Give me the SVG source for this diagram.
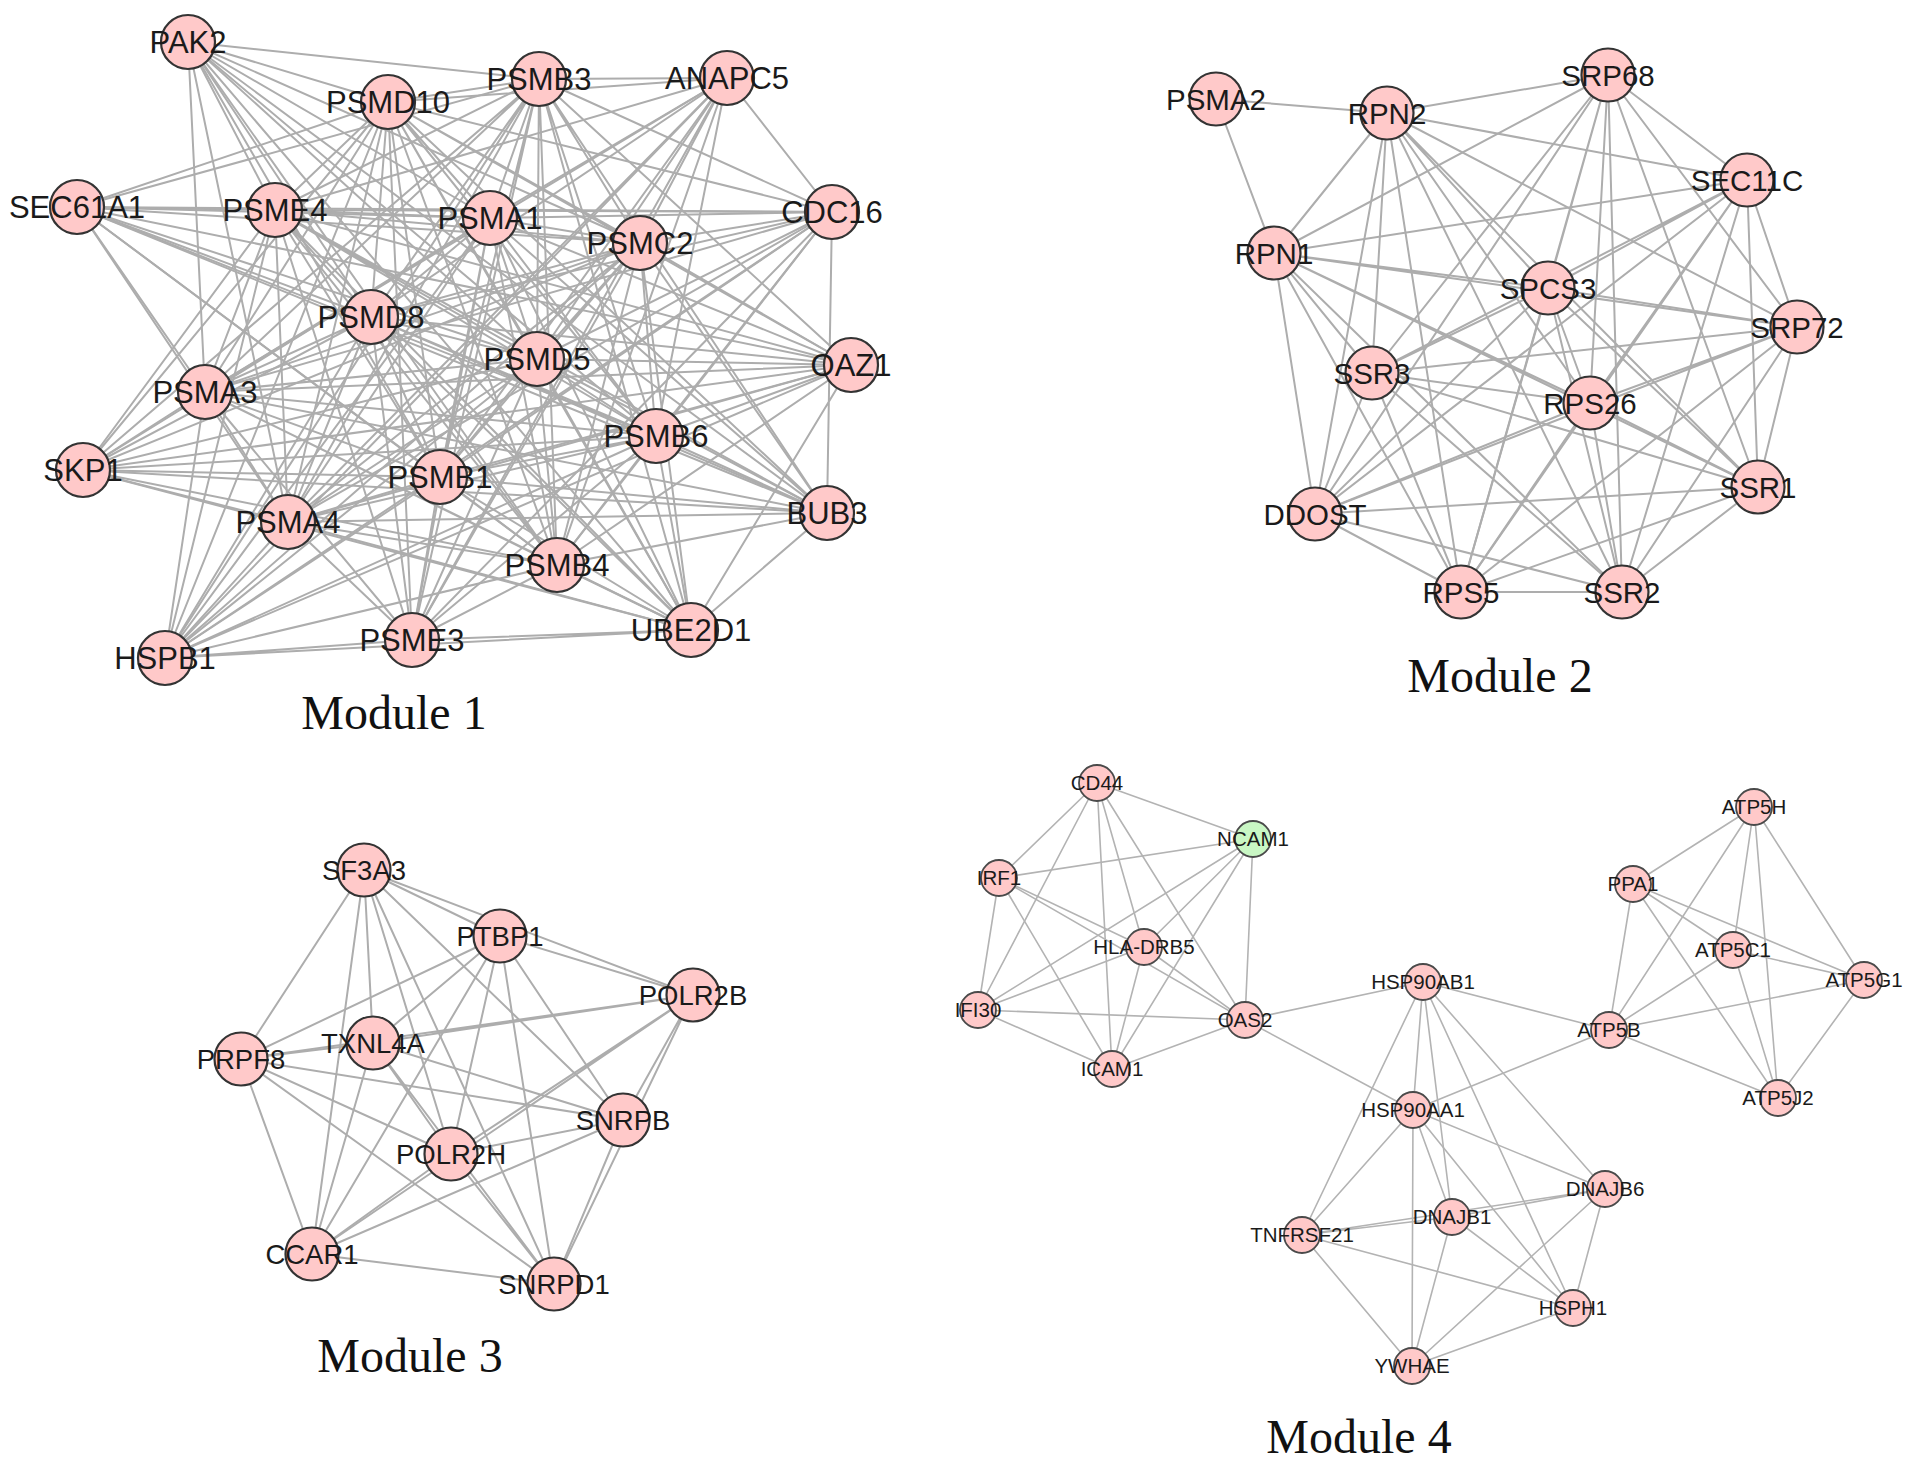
<svg xmlns="http://www.w3.org/2000/svg" width="1913" height="1468" viewBox="0 0 1913 1468">
<style>
.e{fill:none;stroke:#adadad;stroke-width:2}
.e4{fill:none;stroke:#b3b3b3;stroke-width:1.6}
.n{fill:#ffc9c9;stroke:#333;stroke-width:2.2}
.n4{fill:#ffc9c9;stroke:#4a4a4a;stroke-width:1.8}
.g4{fill:#c9f7c4;stroke:#4a4a4a;stroke-width:1.8}
text{font-family:"Liberation Sans",Arial,sans-serif;fill:#1a1a1a;text-anchor:middle}
.t1{font-size:31px}
.t2{font-size:29.5px}
.t3{font-size:27.5px}
.t4{font-size:20.5px}
.title{font-family:"Liberation Serif","Times New Roman",serif;font-size:48px;fill:#111}
</style>
<rect width="1913" height="1468" fill="#fff"/>
<g id="connectors">
<g id="edges-module1" class="e">
<path d="M388 102L539 79M388 102L275 210M388 102L490 218M388 102L640 243M388 102L371 317M388 102L537 359M388 102L205 392M388 102L656 436M388 102L440 477M388 102L288 522M388 102L557 565M388 102L188 42M388 102L727 78M388 102L77 207M388 102L832 212M388 102L851 365M388 102L83 470M388 102L827 513M388 102L691 630M388 102L412 640M388 102L165 658"/>
<path d="M539 79L275 210M539 79L490 218M539 79L640 243M539 79L371 317M539 79L537 359M539 79L205 392M539 79L656 436M539 79L440 477M539 79L288 522M539 79L557 565M539 79L188 42M539 79L727 78M539 79L77 207M539 79L832 212M539 79L851 365M539 79L83 470M539 79L827 513M539 79L691 630M539 79L412 640M539 79L165 658"/>
<path d="M275 210L490 218M275 210L640 243M275 210L371 317M275 210L537 359M275 210L205 392M275 210L656 436M275 210L440 477M275 210L288 522M275 210L557 565M275 210L188 42M275 210L727 78M275 210L77 207M275 210L832 212M275 210L851 365M275 210L83 470M275 210L827 513M275 210L691 630M275 210L412 640M275 210L165 658"/>
<path d="M490 218L640 243M490 218L371 317M490 218L537 359M490 218L205 392M490 218L656 436M490 218L440 477M490 218L288 522M490 218L557 565M490 218L188 42M490 218L727 78M490 218L77 207M490 218L832 212M490 218L851 365M490 218L83 470M490 218L827 513M490 218L691 630M490 218L412 640M490 218L165 658"/>
<path d="M640 243L371 317M640 243L537 359M640 243L205 392M640 243L656 436M640 243L440 477M640 243L288 522M640 243L557 565M640 243L188 42M640 243L727 78M640 243L77 207M640 243L832 212M640 243L851 365M640 243L83 470M640 243L827 513M640 243L691 630M640 243L412 640M640 243L165 658"/>
<path d="M371 317L537 359M371 317L205 392M371 317L656 436M371 317L440 477M371 317L288 522M371 317L557 565M371 317L188 42M371 317L727 78M371 317L77 207M371 317L832 212M371 317L851 365M371 317L83 470M371 317L827 513M371 317L691 630M371 317L412 640M371 317L165 658"/>
<path d="M537 359L205 392M537 359L656 436M537 359L440 477M537 359L288 522M537 359L557 565M537 359L188 42M537 359L727 78M537 359L77 207M537 359L832 212M537 359L851 365M537 359L83 470M537 359L827 513M537 359L691 630M537 359L412 640M537 359L165 658"/>
<path d="M205 392L656 436M205 392L440 477M205 392L288 522M205 392L557 565M205 392L188 42M205 392L727 78M205 392L77 207M205 392L832 212M205 392L851 365M205 392L83 470M205 392L827 513M205 392L691 630M205 392L412 640M205 392L165 658"/>
<path d="M656 436L440 477M656 436L288 522M656 436L557 565M656 436L188 42M656 436L727 78M656 436L77 207M656 436L832 212M656 436L851 365M656 436L83 470M656 436L827 513M656 436L691 630M656 436L412 640M656 436L165 658"/>
<path d="M440 477L288 522M440 477L557 565M440 477L188 42M440 477L727 78M440 477L77 207M440 477L832 212M440 477L851 365M440 477L83 470M440 477L827 513M440 477L691 630M440 477L412 640M440 477L165 658"/>
<path d="M288 522L557 565M288 522L188 42M288 522L727 78M288 522L77 207M288 522L832 212M288 522L851 365M288 522L83 470M288 522L827 513M288 522L691 630M288 522L412 640M288 522L165 658"/>
<path d="M557 565L188 42M557 565L727 78M557 565L77 207M557 565L832 212M557 565L851 365M557 565L83 470M557 565L827 513M557 565L691 630M557 565L412 640M557 565L165 658"/>
<path d="M727 78L832 212M832 212L827 513M77 207L832 212M851 365L691 630M827 513L691 630M412 640L691 630M165 658L412 640M83 470L827 513M83 470L851 365M165 658L691 630M77 207L827 513M727 78L165 658M832 212L165 658M188 42L691 630M83 470L691 630M832 212L412 640M851 365L165 658M188 42L827 513M77 207L851 365M727 78L412 640"/>
</g>
<g id="edges-module2" class="e">
<path d="M1216 99L1387 113M1216 99L1274 253"/>
<path d="M1387 113L1608 75M1387 113L1747 180M1387 113L1274 253M1387 113L1548 288M1387 113L1797 327M1387 113L1372 373M1387 113L1590 403M1387 113L1758 487M1387 113L1315 514M1387 113L1461 592M1387 113L1622 592"/>
<path d="M1608 75L1747 180M1608 75L1274 253M1608 75L1548 288M1608 75L1797 327M1608 75L1372 373M1608 75L1590 403M1608 75L1758 487M1608 75L1315 514M1608 75L1461 592M1608 75L1622 592"/>
<path d="M1747 180L1274 253M1747 180L1548 288M1747 180L1797 327M1747 180L1372 373M1747 180L1590 403M1747 180L1758 487M1747 180L1315 514M1747 180L1461 592M1747 180L1622 592"/>
<path d="M1274 253L1548 288M1274 253L1797 327M1274 253L1372 373M1274 253L1590 403M1274 253L1758 487M1274 253L1315 514M1274 253L1461 592M1274 253L1622 592"/>
<path d="M1548 288L1797 327M1548 288L1372 373M1548 288L1590 403M1548 288L1758 487M1548 288L1315 514M1548 288L1461 592M1548 288L1622 592"/>
<path d="M1797 327L1372 373M1797 327L1590 403M1797 327L1758 487M1797 327L1315 514M1797 327L1461 592M1797 327L1622 592"/>
<path d="M1372 373L1590 403M1372 373L1758 487M1372 373L1315 514M1372 373L1461 592M1372 373L1622 592"/>
<path d="M1590 403L1758 487M1590 403L1315 514M1590 403L1461 592M1590 403L1622 592"/>
<path d="M1758 487L1315 514M1758 487L1461 592M1758 487L1622 592M1315 514L1461 592M1315 514L1622 592M1461 592L1622 592"/>
</g>
<g id="edges-module3" class="e">
<path d="M364 870L500 936M364 870L693 995M364 870L373 1043M364 870L241 1059M364 870L623 1120M364 870L451 1154M364 870L312 1254M364 870L554 1284"/>
<path d="M500 936L693 995M500 936L373 1043M500 936L241 1059M500 936L623 1120M500 936L451 1154M500 936L312 1254M500 936L554 1284"/>
<path d="M693 995L373 1043M693 995L241 1059M693 995L623 1120M693 995L451 1154M693 995L312 1254M693 995L554 1284"/>
<path d="M373 1043L241 1059M373 1043L623 1120M373 1043L451 1154M373 1043L312 1254M373 1043L554 1284"/>
<path d="M241 1059L623 1120M241 1059L451 1154M241 1059L312 1254M241 1059L554 1284"/>
<path d="M623 1120L451 1154M623 1120L312 1254M623 1120L554 1284M451 1154L312 1254M451 1154L554 1284M312 1254L554 1284"/>
</g>
<g id="edges-module4" class="e4">
<path d="M1097 783L1253 839M1097 783L999 878M1097 783L978 1010M1097 783L1112 1069M1097 783L1144 947M1097 783L1245 1020"/>
<path d="M1253 839L999 878M1253 839L1144 947M1253 839L978 1010M1253 839L1112 1069M1253 839L1245 1020"/>
<path d="M999 878L978 1010M999 878L1144 947M999 878L1245 1020M999 878L1112 1069"/>
<path d="M1144 947L978 1010M1144 947L1112 1069M1144 947L1245 1020M978 1010L1245 1020M978 1010L1112 1069M1112 1069L1245 1020"/>
<path d="M1245 1020L1423 982M1245 1020L1413 1110"/>
<path d="M1754 807L1633 884M1754 807L1609 1030M1754 807L1733 950M1754 807L1778 1098M1754 807L1864 980"/>
<path d="M1633 884L1609 1030M1633 884L1733 950M1633 884L1864 980M1633 884L1778 1098"/>
<path d="M1733 950L1609 1030M1733 950L1864 980M1733 950L1778 1098M1864 980L1609 1030M1864 980L1778 1098"/>
<path d="M1609 1030L1778 1098M1609 1030L1423 982M1609 1030L1413 1110"/>
<path d="M1423 982L1413 1110M1423 982L1302 1235M1423 982L1452 1217M1423 982L1573 1308M1423 982L1605 1189"/>
<path d="M1413 1110L1302 1235M1413 1110L1452 1217M1413 1110L1412 1366M1413 1110L1573 1308M1413 1110L1605 1189"/>
<path d="M1452 1217L1302 1235M1452 1217L1605 1189M1452 1217L1573 1308M1452 1217L1412 1366M1302 1235L1605 1189M1302 1235L1573 1308M1302 1235L1412 1366M1605 1189L1573 1308M1605 1189L1412 1366M1573 1308L1412 1366"/>
</g>
</g>
<g id="nodes-module1">
<g id="n-PAK2"><circle class="n" cx="188" cy="42" r="27"/><text class="t1" x="188" y="53">PAK2</text></g>
<g id="n-PSMD10"><circle class="n" cx="388" cy="102" r="27"/><text class="t1" x="388" y="113">PSMD10</text></g>
<g id="n-PSMB3"><circle class="n" cx="539" cy="79" r="27"/><text class="t1" x="539" y="90">PSMB3</text></g>
<g id="n-ANAPC5"><circle class="n" cx="727" cy="78" r="27"/><text class="t1" x="727" y="89">ANAPC5</text></g>
<g id="n-SEC61A1"><circle class="n" cx="77" cy="207" r="27"/><text class="t1" x="77" y="218">SEC61A1</text></g>
<g id="n-PSME4"><circle class="n" cx="275" cy="210" r="27"/><text class="t1" x="275" y="221">PSME4</text></g>
<g id="n-PSMA1"><circle class="n" cx="490" cy="218" r="27"/><text class="t1" x="490" y="229">PSMA1</text></g>
<g id="n-PSMC2"><circle class="n" cx="640" cy="243" r="27"/><text class="t1" x="640" y="254">PSMC2</text></g>
<g id="n-CDC16"><circle class="n" cx="832" cy="212" r="27"/><text class="t1" x="832" y="223">CDC16</text></g>
<g id="n-PSMD8"><circle class="n" cx="371" cy="317" r="27"/><text class="t1" x="371" y="328">PSMD8</text></g>
<g id="n-PSMD5"><circle class="n" cx="537" cy="359" r="27"/><text class="t1" x="537" y="370">PSMD5</text></g>
<g id="n-OAZ1"><circle class="n" cx="851" cy="365" r="27"/><text class="t1" x="851" y="376">OAZ1</text></g>
<g id="n-PSMA3"><circle class="n" cx="205" cy="392" r="27"/><text class="t1" x="205" y="403">PSMA3</text></g>
<g id="n-PSMB6"><circle class="n" cx="656" cy="436" r="27"/><text class="t1" x="656" y="447">PSMB6</text></g>
<g id="n-SKP1"><circle class="n" cx="83" cy="470" r="27"/><text class="t1" x="83" y="481">SKP1</text></g>
<g id="n-PSMB1"><circle class="n" cx="440" cy="477" r="27"/><text class="t1" x="440" y="488">PSMB1</text></g>
<g id="n-PSMA4"><circle class="n" cx="288" cy="522" r="27"/><text class="t1" x="288" y="533">PSMA4</text></g>
<g id="n-BUB3"><circle class="n" cx="827" cy="513" r="27"/><text class="t1" x="827" y="524">BUB3</text></g>
<g id="n-PSMB4"><circle class="n" cx="557" cy="565" r="27"/><text class="t1" x="557" y="576">PSMB4</text></g>
<g id="n-UBE2D1"><circle class="n" cx="691" cy="630" r="27"/><text class="t1" x="691" y="641">UBE2D1</text></g>
<g id="n-PSME3"><circle class="n" cx="412" cy="640" r="27"/><text class="t1" x="412" y="651">PSME3</text></g>
<g id="n-HSPB1"><circle class="n" cx="165" cy="658" r="27"/><text class="t1" x="165" y="669">HSPB1</text></g>
</g>
<g id="nodes-module2">
<g id="n-PSMA2"><circle class="n" cx="1216" cy="99" r="26.5"/><text class="t2" x="1216" y="110">PSMA2</text></g>
<g id="n-RPN2"><circle class="n" cx="1387" cy="113" r="26.5"/><text class="t2" x="1387" y="124">RPN2</text></g>
<g id="n-SRP68"><circle class="n" cx="1608" cy="75" r="26.5"/><text class="t2" x="1608" y="86">SRP68</text></g>
<g id="n-SEC11C"><circle class="n" cx="1747" cy="180" r="26.5"/><text class="t2" x="1747" y="191">SEC11C</text></g>
<g id="n-RPN1"><circle class="n" cx="1274" cy="253" r="26.5"/><text class="t2" x="1274" y="264">RPN1</text></g>
<g id="n-SPCS3"><circle class="n" cx="1548" cy="288" r="26.5"/><text class="t2" x="1548" y="299">SPCS3</text></g>
<g id="n-SRP72"><circle class="n" cx="1797" cy="327" r="26.5"/><text class="t2" x="1797" y="338">SRP72</text></g>
<g id="n-SSR3"><circle class="n" cx="1372" cy="373" r="26.5"/><text class="t2" x="1372" y="384">SSR3</text></g>
<g id="n-RPS26"><circle class="n" cx="1590" cy="403" r="26.5"/><text class="t2" x="1590" y="414">RPS26</text></g>
<g id="n-SSR1"><circle class="n" cx="1758" cy="487" r="26.5"/><text class="t2" x="1758" y="498">SSR1</text></g>
<g id="n-DDOST"><circle class="n" cx="1315" cy="514" r="26.5"/><text class="t2" x="1315" y="525">DDOST</text></g>
<g id="n-RPS5"><circle class="n" cx="1461" cy="592" r="26.5"/><text class="t2" x="1461" y="603">RPS5</text></g>
<g id="n-SSR2"><circle class="n" cx="1622" cy="592" r="26.5"/><text class="t2" x="1622" y="603">SSR2</text></g>
</g>
<g id="nodes-module3">
<g id="n-SF3A3"><circle class="n" cx="364" cy="870" r="26.5"/><text class="t3" x="364" y="880">SF3A3</text></g>
<g id="n-PTBP1"><circle class="n" cx="500" cy="936" r="26.5"/><text class="t3" x="500" y="946">PTBP1</text></g>
<g id="n-POLR2B"><circle class="n" cx="693" cy="995" r="26.5"/><text class="t3" x="693" y="1005">POLR2B</text></g>
<g id="n-TXNL4A"><circle class="n" cx="373" cy="1043" r="26.5"/><text class="t3" x="373" y="1053">TXNL4A</text></g>
<g id="n-PRPF8"><circle class="n" cx="241" cy="1059" r="26.5"/><text class="t3" x="241" y="1069">PRPF8</text></g>
<g id="n-SNRPB"><circle class="n" cx="623" cy="1120" r="26.5"/><text class="t3" x="623" y="1130">SNRPB</text></g>
<g id="n-POLR2H"><circle class="n" cx="451" cy="1154" r="26.5"/><text class="t3" x="451" y="1164">POLR2H</text></g>
<g id="n-CCAR1"><circle class="n" cx="312" cy="1254" r="26.5"/><text class="t3" x="312" y="1264">CCAR1</text></g>
<g id="n-SNRPD1"><circle class="n" cx="554" cy="1284" r="26.5"/><text class="t3" x="554" y="1294">SNRPD1</text></g>
</g>
<g id="nodes-module4">
<g id="n-CD44"><circle class="n4" cx="1097" cy="783" r="18"/><text class="t4" x="1097" y="790">CD44</text></g>
<g id="n-NCAM1"><circle class="g4" cx="1253" cy="839" r="18"/><text class="t4" x="1253" y="846">NCAM1</text></g>
<g id="n-IRF1"><circle class="n4" cx="999" cy="878" r="18"/><text class="t4" x="999" y="885">IRF1</text></g>
<g id="n-HLA-DRB5"><circle class="n4" cx="1144" cy="947" r="18"/><text class="t4" x="1144" y="954">HLA-DRB5</text></g>
<g id="n-IFI30"><circle class="n4" cx="978" cy="1010" r="18"/><text class="t4" x="978" y="1017">IFI30</text></g>
<g id="n-OAS2"><circle class="n4" cx="1245" cy="1020" r="18"/><text class="t4" x="1245" y="1027">OAS2</text></g>
<g id="n-ICAM1"><circle class="n4" cx="1112" cy="1069" r="18"/><text class="t4" x="1112" y="1076">ICAM1</text></g>
<g id="n-HSP90AB1"><circle class="n4" cx="1423" cy="982" r="18"/><text class="t4" x="1423" y="989">HSP90AB1</text></g>
<g id="n-ATP5H"><circle class="n4" cx="1754" cy="807" r="18"/><text class="t4" x="1754" y="814">ATP5H</text></g>
<g id="n-PPA1"><circle class="n4" cx="1633" cy="884" r="18"/><text class="t4" x="1633" y="891">PPA1</text></g>
<g id="n-ATP5C1"><circle class="n4" cx="1733" cy="950" r="18"/><text class="t4" x="1733" y="957">ATP5C1</text></g>
<g id="n-ATP5G1"><circle class="n4" cx="1864" cy="980" r="18"/><text class="t4" x="1864" y="987">ATP5G1</text></g>
<g id="n-ATP5B"><circle class="n4" cx="1609" cy="1030" r="18"/><text class="t4" x="1609" y="1037">ATP5B</text></g>
<g id="n-ATP5J2"><circle class="n4" cx="1778" cy="1098" r="18"/><text class="t4" x="1778" y="1105">ATP5J2</text></g>
<g id="n-HSP90AA1"><circle class="n4" cx="1413" cy="1110" r="18"/><text class="t4" x="1413" y="1117">HSP90AA1</text></g>
<g id="n-DNAJB6"><circle class="n4" cx="1605" cy="1189" r="18"/><text class="t4" x="1605" y="1196">DNAJB6</text></g>
<g id="n-DNAJB1"><circle class="n4" cx="1452" cy="1217" r="18"/><text class="t4" x="1452" y="1224">DNAJB1</text></g>
<g id="n-TNFRSF21"><circle class="n4" cx="1302" cy="1235" r="18"/><text class="t4" x="1302" y="1242">TNFRSF21</text></g>
<g id="n-HSPH1"><circle class="n4" cx="1573" cy="1308" r="18"/><text class="t4" x="1573" y="1315">HSPH1</text></g>
<g id="n-YWHAE"><circle class="n4" cx="1412" cy="1366" r="18"/><text class="t4" x="1412" y="1373">YWHAE</text></g>
</g>
<g id="titles">
<text class="title" x="394" y="729">Module 1</text>
<text class="title" x="1500" y="692">Module 2</text>
<text class="title" x="410" y="1372">Module 3</text>
<text class="title" x="1359" y="1453">Module 4</text>
</g>
</svg>
